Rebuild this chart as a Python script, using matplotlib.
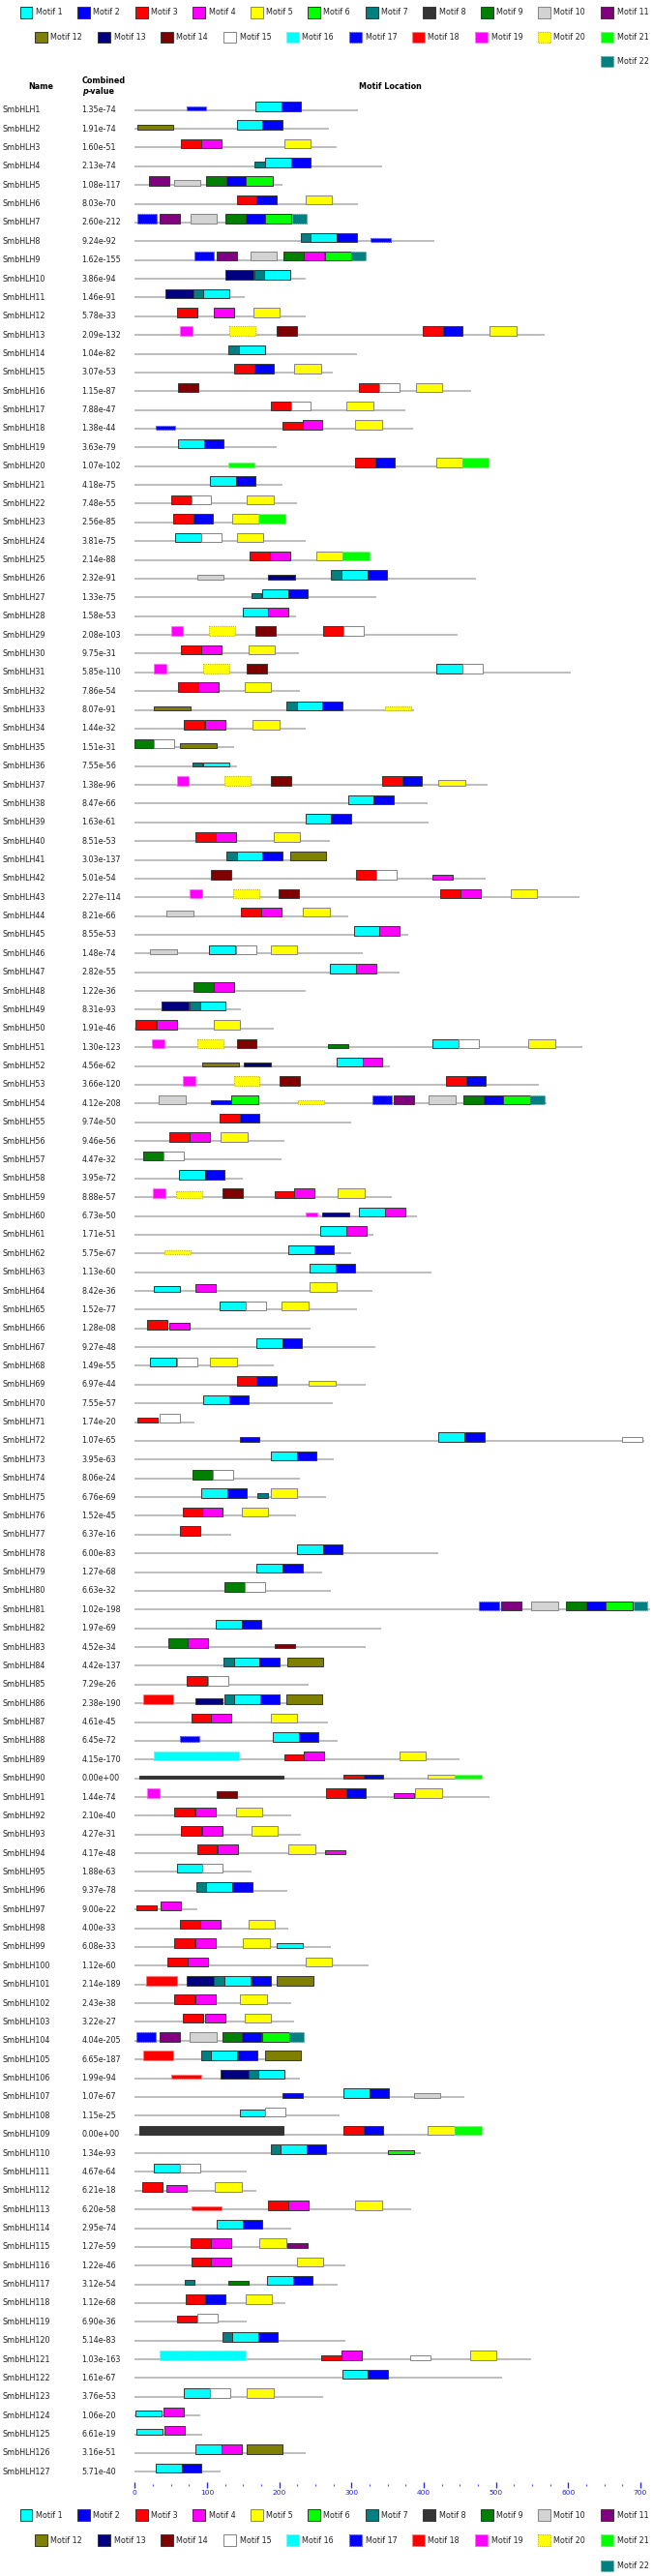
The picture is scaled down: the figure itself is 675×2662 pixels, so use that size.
import matplotlib
matplotlib.use('Agg')
import matplotlib.pyplot as plt
from matplotlib.patches import Rectangle

# ---- data ----
names = ['SmbHLH' + str(i) for i in range(1, 128)]

pvalues = ['1.35e-74', '1.91e-74', '1.60e-51', '2.13e-74', '1.08e-117', '8.03e-70', '2.60e-212', '9.24e-92',
           '1.62e-155', '3.86e-94', '1.46e-91', '5.78e-33', '2.09e-132', '1.04e-82', '3.07e-53', '1.15e-87',
           '7.88e-47', '1.38e-44', '3.63e-79', '1.07e-102', '4.18e-75', '7.48e-55', '2.56e-85', '3.81e-75',
           '2.14e-88', '2.32e-91', '1.33e-75', '1.58e-53', '2.08e-103', '9.75e-31', '5.85e-110', '7.86e-54',
           '8.07e-91', '1.44e-32', '1.51e-31', '7.55e-56', '1.38e-96', '8.47e-66', '1.63e-61', '8.51e-53',
           '3.03e-137', '5.01e-54', '2.27e-114', '8.21e-66', '8.55e-53', '1.48e-74', '2.82e-55', '1.22e-36',
           '8.31e-93', '1.91e-46', '1.30e-123', '4.56e-62', '3.66e-120', '4.12e-208', '9.74e-50', '9.46e-56',
           '4.47e-32', '3.95e-72', '8.88e-57', '6.73e-50', '1.71e-51', '5.75e-67', '1.13e-60', '8.42e-36',
           '1.52e-77', '1.28e-08', '9.27e-48', '1.49e-55', '6.97e-44', '7.55e-57', '1.74e-20', '1.07e-65',
           '3.95e-63', '8.06e-24', '6.76e-69', '1.52e-45', '6.37e-16', '6.00e-83', '1.27e-68', '6.63e-32',
           '1.02e-198', '1.97e-69', '4.52e-34', '4.42e-137', '7.29e-26', '2.38e-190', '4.61e-45', '6.45e-72',
           '4.15e-170', '0.00e+00', '1.44e-74', '2.10e-40', '4.27e-31', '4.17e-48', '1.88e-63', '9.37e-78',
           '9.00e-22', '4.00e-33', '6.08e-33', '1.12e-60', '2.14e-189', '2.43e-38', '3.22e-27', '4.04e-205',
           '6.65e-187', '1.99e-94', '1.07e-67', '1.15e-25', '0.00e+00', '1.34e-93', '4.67e-64', '6.21e-18',
           '6.20e-58', '2.95e-74', '1.27e-59', '1.22e-46', '3.12e-54', '1.12e-68', '6.90e-36', '5.14e-83',
           '1.03e-163', '1.61e-67', '3.76e-53', '1.06e-20', '6.61e-19', '3.16e-51', '5.71e-40']

seq_len = [309, 269, 280, 342, 205, 309, 238, 415, 320, 236, 152, 236, 568, 308, 274, 465,
           374, 385, 196, 490, 205, 225, 209, 236, 326, 472, 335, 223, 447, 227, 603, 229,
           387, 237, 138, 142, 488, 405, 407, 270, 264, 486, 615, 295, 378, 315, 366, 237,
           147, 192, 620, 353, 560, 570, 299, 207, 203, 149, 356, 390, 331, 299, 411, 329,
           307, 243, 333, 193, 320, 274, 82, 705, 276, 228, 265, 223, 133, 420, 259, 272,
           713, 341, 319, 261, 241, 260, 268, 281, 450, 480, 491, 217, 230, 292, 161, 211,
           86, 212, 271, 324, 246, 216, 220, 234, 229, 228, 456, 284, 480, 396, 155, 169,
           382, 216, 241, 292, 281, 209, 155, 292, 549, 509, 261, 90, 93, 236, 119]

# motif:start[:relative significance]
sites = [
    "17:72:.45 1:167 2:203", "12:3:.5 1:141 2:177", "3:64 4:92 5:207", "7:166:.55 1:180 2:216",
    "11:20 10:54:.65 9:99 2:127 6:154", "3:141 2:169 5:236", "17:3 11:35 10:77 9:125 2:153 6:180 22:218",
    "7:230 1:244 2:280 17:327:.43", "17:83 11:113 10:160 9:206 4:234 6:263 22:300", "13:126 7:165 1:179",
    "13:43 7:81 1:95", "3:58 4:110 5:164", "19:63 20:131 14:196 3:399 2:427 5:491", "7:130 1:144",
    "3:138 2:166 5:221", "14:60 3:310 15:338 5:389", "3:188 15:216 5:293", "17:29:.45 3:205:.85 4:232 5:305",
    "1:60 2:96", "21:129:.5 3:305 2:333 5:417 21:453", "1:104 2:140", "3:50 15:78 5:155",
    "3:53 2:81 5:135 21:171", "1:56 15:92 5:141", "3:159 4:187 5:251 21:288",
    "10:86:.5 13:184:.5 7:272 1:286 2:322", "7:161:.55 1:176 2:212", "1:149 4:185",
    "19:50 20:103 14:167 3:261 15:289", "3:64 4:92 5:157", "19:27 20:95 14:155 1:418 15:454",
    "3:60 4:88 5:152", "12:27:.5 7:210 1:224 2:260 20:346:.45", "3:68 4:97 5:163",
    "9:0 15:27 12:63:.55", "7:80:.45 1:95:.45", "19:58 20:124 14:188 3:343 2:371 5:420:.6",
    "1:295 2:331", "1:236 2:272", "3:84 4:112 5:192", "7:127 1:141 2:177 12:215",
    "14:105 3:306 15:334 4:412:.5", "19:76 20:136 14:199 3:423 4:451 5:520", "10:44:.65 3:147 4:175 5:233",
    "1:303 4:339", "10:21:.55 1:103 15:140 5:188", "1:270 4:306", "9:81 4:109",
    "13:37 7:76 1:90", "3:1 4:30 5:109", "19:24 20:87 14:141 9:267:.45 1:412 15:448 5:545",
    "12:94:.5 13:151:.5 1:279 4:315", "19:67 20:137 14:200 3:431 2:459",
    "10:33 2:106:.45 6:134 20:226:.45 17:329 11:359 10:407 9:455 2:483 6:510 22:547",
    "3:118 2:146", "3:48 4:76 5:119", "9:12 15:40", "1:61 2:97",
    "19:25 20:57:.7 14:121 3:194:.75 4:221 5:281", "19:236:.5 13:259:.45 1:310 4:346", "1:257 4:293",
    "20:41:.45 1:213 2:249", "1:242 2:278", "1:26:.65 4:84:.85 5:242", "1:118 15:154 5:203",
    "3:17 4:48:.7", "1:168 2:204", "1:21 15:58 5:104", "3:142 2:169 5:241:.45", "1:95 2:131",
    "3:4:.55 15:35", "2:146:.55 1:420 2:457 15:675:.5", "1:189 2:225", "9:80 15:108",
    "1:92 2:128 7:170:.5 5:188", "3:67 4:94 5:148", "3:62", "1:225 2:261", "1:169 2:205", "9:124 15:152",
    "17:477 11:507 10:549 9:597 2:625 6:652 22:690", "1:112 2:148", "9:46 4:73 14:194:.45",
    "7:123 1:137 2:173 12:211", "3:72 15:102", "18:11 13:84:.6 7:124 1:138 2:174 12:210",
    "3:78 4:105 5:188", "17:62:.55 1:191 2:227", "16:26 3:207:.65 4:234 5:366",
    "8:6:.4 3:289:.45 2:317:.45 5:406:.45 21:443:.45", "19:17 14:114:.7 3:265 2:293 4:358:.55 5:388",
    "3:55 4:84 5:140", "3:64 4:94 5:161", "3:86 4:115 5:213 4:264:.45", "1:59 15:94",
    "7:85 1:99 2:136", "3:2:.55 4:36:.9", "3:62 4:91 5:157", "3:55 4:84 5:150 1:196:.5",
    "3:45 4:73 5:236", "18:16 13:72 7:110 1:124 2:161 12:197", "3:55 4:84 5:146", "3:67 4:97 5:152",
    "17:2 11:34 10:76 9:121 2:148 6:177 22:214", "18:11 7:92 1:106 2:143 12:180",
    "18:50:.5 13:119 7:157 1:171", "2:205:.45 1:289 2:325 10:386:.5", "1:146:.7 15:181",
    "8:6 3:289 2:317 5:406 21:443", "7:188 1:202 2:238 6:350:.45", "1:26 15:62",
    "3:10 4:44:.7 5:111", "18:78:.45 3:185 4:213 5:305", "1:114 2:150", "3:77 4:105 5:173 11:211:.45",
    "3:78 4:106 5:224", "7:69:.55 9:129:.45 1:183 2:219", "3:71 2:98 5:153", "3:59:.75 15:87",
    "7:121 1:135 2:171", "16:35 3:258:.5 4:286 15:381:.5 5:464", "1:287 2:323", "1:68 15:104 5:155",
    "1:1:.65 4:40", "1:2:.65 4:41", "1:84 4:120 12:155", "1:29 2:65",
]

motif_len = [36, 27, 28, 28, 37, 37, 14, 200, 28, 37, 28, 50, 38, 28, 28, 118, 27, 42, 17, 36, 37, 20]
motif_color = ['#00FFFF', '#0000FF', '#FF0000', '#FF00FF', '#FFFF00', '#00FF00', '#008080', '#333333',
               '#008000', '#D3D3D3', '#800080', '#808000', '#000080', '#800000', '#FFFFFF', '#00FFFF',
               '#0000FF', '#FF0000', '#FF00FF', '#FFFF00', '#00FF00', '#008080']
dotted_edge = {16: '#7FE5E5', 17: '#5555FF', 18: '#FF7777', 19: '#FF66FF', 20: '#C8B400',
               21: '#77EE77', 22: '#55A0A0'}
ticks = [0, 100, 200, 300, 400, 500, 600, 700]

# ---- layout (pixels of the 675x2662 picture) ----
W, H = 675, 2662
X0_PX = 139.3
PX_PER_UNIT = 522.7 / 700
ROW1_PX = 113.7
ROW_PX = 19.37
BOX_PX = 9.5
FS = 5.8


def px_x(px):
    return (px - X0_PX) / PX_PER_UNIT


def px_y(py):
    return 1 + (py - ROW1_PX) / ROW_PX


fig = plt.figure(figsize=(W / 100, H / 100), dpi=100)
ax = fig.add_axes([0, 0, 1, 1])
ax.set_xlim(px_x(0), px_x(W))
ax.set_ylim(px_y(H), px_y(0))
ax.axis('off')


def motif_box(x, ytop, w, h, m):
    if m >= 16:
        return Rectangle((x, ytop), w, h, facecolor=motif_color[m - 1], edgecolor=dotted_edge[m],
                         lw=0.8, linestyle=(0, (1, 1)))
    ec = '#888888' if m in (10, 15, 5) else '#3a3a3a'
    return Rectangle((x, ytop), w, h, facecolor=motif_color[m - 1], edgecolor=ec, lw=0.75)


# rows
rows = list(range(1, len(names) + 1))
ax.hlines(rows, 0, seq_len, color='#BDBDBD', lw=1.4, zorder=1)
for r, nm, pv, st in zip(rows, names, pvalues, sites):
    ax.text(px_x(2.2), r, nm, fontsize=FS, va='center', ha='left', color='#222222')
    ax.text(px_x(84.5), r, pv, fontsize=FS, va='center', ha='left', color='#222222')
    for tok in st.split():
        parts = tok.split(':')
        m = int(parts[0])
        s = float(parts[1])
        sig = float(parts[2]) if len(parts) > 2 else 1.0
        h = BOX_PX * sig / ROW_PX
        ytop = r + 0.8 / ROW_PX - h
        ax.add_patch(motif_box(s, ytop, motif_len[m - 1], h, m))

# header
ax.text(px_x(41.8), px_y(89), 'Name', fontsize=FS, fontweight='bold', ha='center', va='center')
ax.text(px_x(84.5), px_y(83), 'Combined', fontsize=FS, fontweight='bold', ha='left', va='center')
tp = ax.text(px_x(85), px_y(94.5), 'p', fontsize=FS, fontweight='bold', fontstyle='italic',
             ha='left', va='center')
ax.annotate('-value', xy=(1, 0.5), xycoords=tp, fontsize=FS, fontweight='bold', ha='left', va='center')
ax.text(px_x(403.5), px_y(89), 'Motif Location', fontsize=FS, fontweight='bold', ha='center', va='center')

# ruler
ty = px_y(2568)
ax.vlines(ticks, ty - 2.6 / ROW_PX, ty + 2.6 / ROW_PX, color='#2a2ae6', lw=1.0)
minor = [t for t in range(0, 701, 25) if t % 100 != 0]
ax.vlines(minor, ty - 0.9 / ROW_PX, ty + 0.9 / ROW_PX, color='#5a5af0', lw=0.9)
for t in ticks:
    ax.text(t, px_y(2576), str(t), fontsize=5.4, color='#2222dd', ha='center', va='center')

# legends
legend_rows = [list(range(1, 12)), list(range(12, 22)), [22]]
bw, bh = 13, 11.5


def draw_legend(centers):
    for items, cy in zip(legend_rows, centers):
        widths = [16.5 + (28 if k < 10 else 33.5) + 15 for k in items]
        x = 671 - (sum(widths) - 15)
        for k, wd in zip(items, widths):
            ytop = px_y(cy - bh / 2)
            ax.add_patch(motif_box(px_x(x), ytop, bw / PX_PER_UNIT, bh / ROW_PX, k))
            ax.text(px_x(x + bw + 3.5), px_y(cy), 'Motif ' + str(k), fontsize=FS, ha='left',
                    va='center', color='#222222')
            x += wd


draw_legend([12.8, 38.3, 63.3])
draw_legend([2599, 2625, 2651.5])

fig.savefig('out.png', dpi=100)
